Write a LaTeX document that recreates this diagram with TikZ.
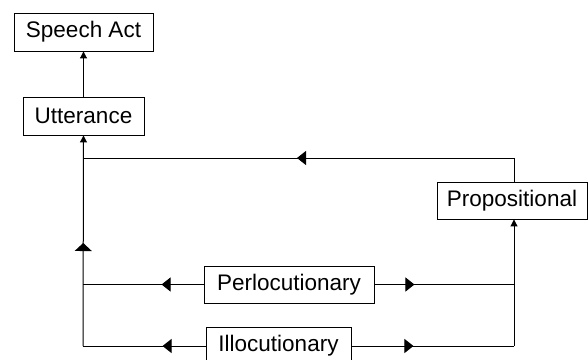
\documentclass[tikz,border=0pt]{standalone}
\usepackage{fontspec}
\setmainfont{Liberation Sans}
\usetikzlibrary{arrows.meta,decorations.markings}
\begin{document}
\begin{tikzpicture}[x=1pt,y=-1pt,
  box/.style={draw,line width=0.9pt,inner sep=0pt,font=\fontsize{22.5}{26}\selectfont},
  conn/.style={line width=1pt},
  endtip/.style={-{Triangle[length=7pt,width=7pt]}},
  hmark/.style={postaction={decorate},decoration={markings,mark=at position #1 with {\arrow{Triangle[length=9pt,width=14pt]}}}},
  vmark/.style={postaction={decorate},decoration={markings,mark=at position #1 with {\arrow{Triangle[length=8pt,width=17pt]}}}}]
\useasboundingbox (0,0) rectangle (588,359);
\node[box,minimum width=139pt,minimum height=38pt] (SA) at (83.5,32) {Speech Act};
\node[box,minimum width=121pt,minimum height=38pt] (U) at (83.5,116) {Utterance};
\node[box,minimum width=150pt,minimum height=37pt] (Pr) at (512,200.5) {Propositional};
\node[box,minimum width=170pt,minimum height=37pt] (Pe) at (289,284.5) {Perlocutionary};
\node[box,minimum width=145pt,minimum height=38pt] (Il) at (278.5,346) {Illocutionary};
\coordinate (jT) at (83,158);
\coordinate (jTR) at (514,158);
\coordinate (jPL) at (83,284.5);
\coordinate (jPR) at (514,284.5);
\coordinate (jIL) at (83,346);
\coordinate (jIR) at (514,346);
\draw[conn,endtip] (U.north) -- (SA.south);
\draw[conn,endtip,vmark=103pt] (jIL) -- (U.south);
\draw[conn,hmark=217pt] (jTR) -- (jT);
\draw[conn] (jTR) -- (jTR|-Pr.north);
\draw[conn,hmark=42pt] (Pe.west) -- (jPL);
\draw[conn,hmark=40pt] (Pe.east) -- (jPR);
\draw[conn,hmark=43pt] (Il.west) -- (jIL);
\draw[conn,hmark=62pt] (Il.east) -- (jIR);
\draw[conn,endtip] (jIR) -- (jIR|-Pr.south);
\end{tikzpicture}
\end{document}
